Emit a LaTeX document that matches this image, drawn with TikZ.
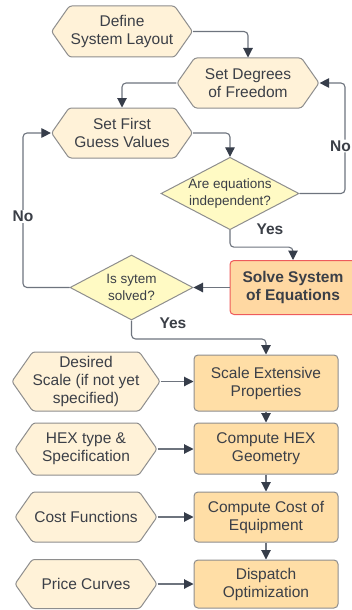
\documentclass[tikz,border=0pt]{standalone}
\usepackage{fontspec}
\setmainfont{Liberation Sans}
\usetikzlibrary{shapes.symbols,shapes.geometric,arrows.meta}
\definecolor{txt}{HTML}{3B3F47}
\definecolor{hexfill}{HTML}{FFF2D8}
\definecolor{hexline}{HTML}{8E8E8E}
\definecolor{boxfill}{HTML}{FFDEA6}
\definecolor{solvefill}{HTML}{FFD8A2}
\definecolor{solveline}{HTML}{EE5B5B}
\definecolor{dfill}{HTML}{FFFAC4}
\definecolor{lin}{HTML}{6E747E}
\definecolor{head}{HTML}{363D4A}
\begin{document}
\begin{tikzpicture}[x=1pt,y=-1pt,
  every node/.style={text=txt, align=center, font=\fontsize{15.5}{18}\selectfont},
  hexa/.style={shape=signal, signal to=west and east, signal pointer angle=110,
    draw=hexline, fill=hexfill, line width=1pt, inner sep=0pt, rounded corners=2.5pt},
  boxn/.style={rectangle, draw=hexline, fill=boxfill, line width=1pt, rounded corners=4pt,
    inner sep=0pt, minimum width=144pt},
  dia/.style={diamond, draw=hexline, fill=dfill, line width=1pt, inner sep=-10pt,
    font=\fontsize{13.5}{16.5}\selectfont},
  arr/.style={draw=lin, line width=1.1pt, rounded corners=4pt,
    -{Triangle[length=9.5pt,width=9.5pt,color=head]}},
  lbl/.style={font=\bfseries\fontsize{15.5}{18}\selectfont, fill=white, inner sep=1pt}
]
\useasboundingbox[fill=white] (0,0) rectangle (351,610);

% top part
\node[hexa, minimum width=141pt, minimum height=51pt] (define) at (122,31.5) {Define\\System Layout};
\node[hexa, minimum width=142pt, minimum height=50pt] (dof) at (248,83) {Set Degrees\\of Freedom};
\node[hexa, minimum width=141pt, minimum height=50pt] (guess) at (122,133) {Set First\\Guess Values};
\node[dia, minimum width=138pt, minimum height=65pt] (indep) at (230,193.5) {Are equations\\independent?};
\node[rectangle, draw=solveline, fill=solvefill, line width=1pt, rounded corners=4pt,
      minimum width=126pt, minimum height=54pt, font=\bfseries\fontsize{15.5}{18}\selectfont] (solve) at (293,287.5) {Solve System\\of Equations};
\node[dia, minimum width=123pt, minimum height=65pt] (solved) at (131.5,287.5) {Is sytem\\solved?};

% lower part
\node[boxn, minimum height=56pt] (scale) at (266,383) {Scale Extensive\\Properties};
\node[boxn, minimum height=51pt] (geo) at (266,448.5) {Compute HEX\\Geometry};
\node[boxn, minimum height=50pt] (cost) at (266,517) {Compute Cost of\\Equipment};
\node[boxn, minimum height=48pt] (disp) at (266,584) {Dispatch\\Optimization};

\node[hexa, minimum width=142pt, minimum height=59pt] (desired) at (86,381.5) {Desired\\Scale (if not yet\\specified)};
\node[hexa, minimum width=142pt, minimum height=52pt] (hextype) at (86,449) {HEX type \&\\Specification};
\node[hexa, minimum width=142pt, minimum height=50pt] (costf) at (86,517) {Cost Functions};
\node[hexa, minimum width=142pt, minimum height=49pt] (price) at (86,584) {Price Curves};

% connectors
\draw[arr] (define.east) -| (dof.north);
\draw[arr] (dof.west) -| (guess.north);
\draw[arr] (guess.east) -| (indep.north);
\coordinate (rb) at (345,193.5);
\coordinate (rt) at (345,83);
\draw[arr] (indep.east) -- (rb) -- node[lbl, pos=0.43, xshift=-4.5pt] {No} (rt) -- (dof.east);
\draw[arr] (indep.south) -- ++(0,17) -| (solve.north);
\node[lbl, fill=none] (yes1) at (270,229) {Yes};
\draw[arr] (solve.west) -- (solved.east);
\coordinate (lb) at (23,287.5);
\coordinate (lt) at (23,133);
\draw[arr] (solved.west) -- (lb) -- node[lbl, pos=0.46] {No} (lt) -- (guess.west);
\draw[arr] (solved.south) -- ++(0,18.5) -| (scale.north);
\node[lbl, fill=none] (yes2) at (173,323) {Yes};

\draw[arr] (scale.south) -- (geo.north);
\draw[arr] (geo.south) -- (cost.north);
\draw[arr] (cost.south) -- (disp.north);
\draw[arr] (desired.east) -- (desired.east -| scale.west);
\draw[arr] (hextype.east) -- (hextype.east -| geo.west);
\draw[arr] (costf.east) -- (cost.west);
\draw[arr] (price.east) -- (disp.west);
\end{tikzpicture}
\end{document}
